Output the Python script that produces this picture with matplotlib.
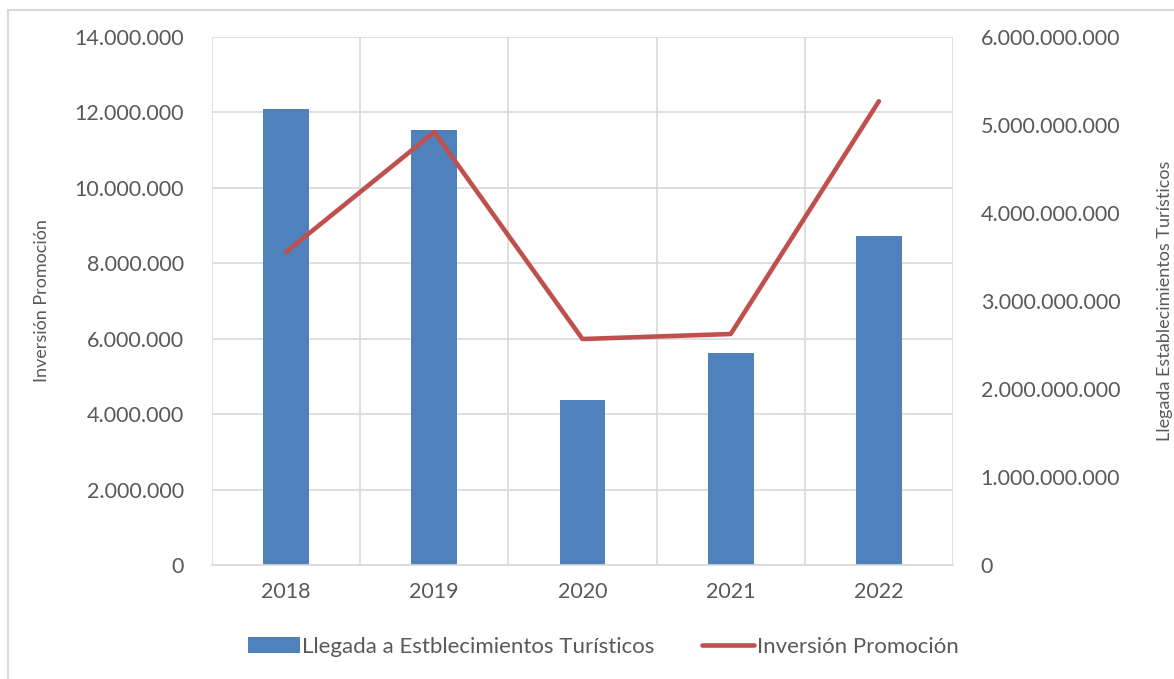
import matplotlib.pyplot as plt
from matplotlib.patches import Rectangle
from matplotlib.ticker import FuncFormatter
import numpy as np

years = ["2018", "2019", "2020", "2021", "2022"]
llegadas = [12090000, 11530000, 4375000, 5620000, 8720000]
inversion = [3557000000, 4920000000, 2568000000, 2625000000, 5270000000]

plt.rcParams['font.family'] = ['Lato', 'DejaVu Sans']
text_color = '#595959'
grid_color = '#d9d9d9'


def miles(v, pos):
    return f"{int(round(v)):,}".replace(",", ".")


fig = plt.figure(figsize=(11.74, 6.79), dpi=100)
ax = fig.add_axes([212 / 1174, 1 - 565 / 679, (953 - 212) / 1174, (565 - 37) / 679])
ax2 = ax.twinx()

x = np.arange(len(years))
ax.bar(x, llegadas, width=0.31, color='#4F81BD', zorder=2,
       label='Llegada a Estblecimientos Turísticos')
ax2.plot(x, inversion, color='#C0504D', linewidth=3.3, solid_capstyle='round',
         label='Inversión Promoción', zorder=3)

ax.set_xlim(-0.5, len(years) - 0.5)
ax.set_ylim(0, 14000000)
ax.set_yticks(np.arange(0, 14000001, 2000000))
ax2.set_ylim(0, 6000000000)
ax2.set_yticks(np.arange(0, 6000000001, 1000000000))
ax.yaxis.set_major_formatter(FuncFormatter(miles))
ax2.yaxis.set_major_formatter(FuncFormatter(miles))

ax.set_xticks(x)
ax.set_xticklabels(years)
ax.set_xticks(np.arange(-0.5, len(years)), minor=True)
ax.grid(axis='y', color=grid_color, linewidth=1.2, zorder=0)
ax.grid(axis='x', which='minor', color=grid_color, linewidth=1.2, zorder=0)
ax.set_axisbelow(True)

for a in (ax, ax2):
    for s in a.spines.values():
        s.set_visible(False)
    a.tick_params(which='both', length=0, labelsize=15.5, labelcolor=text_color)
ax.spines['bottom'].set_visible(True)
ax.spines['bottom'].set_color(grid_color)
ax.spines['bottom'].set_linewidth(1.2)
ax.tick_params(axis='y', pad=20)
ax.tick_params(axis='x', pad=12)
ax2.tick_params(axis='y', pad=20)

fig.text(42 / 1174, 1 - 301 / 679, 'Inversión Promoción', rotation=90,
         ha='center', va='center', fontsize=13, color=text_color)
fig.text(1165 / 1174, 1 - 301 / 679, 'Llegada Establecimientos Turísticos', rotation=90,
         ha='center', va='center', fontsize=13, color=text_color)

h1, l1 = ax.get_legend_handles_labels()
h2, l2 = ax2.get_legend_handles_labels()
fig.legend(h1 + h2, l1 + l2, loc='center', bbox_to_anchor=(603 / 1174, 1 - 647 / 679),
           ncol=2, frameon=False, fontsize=16, labelcolor=text_color,
           handlelength=2.35, handleheight=0.75, handletextpad=0.1, columnspacing=2.15)

# light outer frame of the chart area
fig.patches.append(Rectangle((8 / 1174, -0.1), 1.2, 1 - 10 / 679 + 0.1,
                             transform=fig.transFigure, fill=False,
                             edgecolor=grid_color, linewidth=1.5))

fig.savefig('out.png', dpi=100)
